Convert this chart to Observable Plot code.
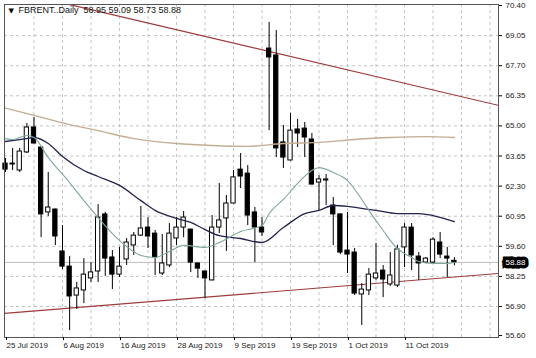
<!DOCTYPE html>
<html><head><meta charset="utf-8">
<script src="https://cdn.jsdelivr.net/npm/d3@7"></script>
<script src="https://cdn.jsdelivr.net/npm/@observablehq/plot@0.6"></script>
<style>body{margin:0;background:#fff;}</style>
</head><body><div id="chart"></div>
<script>
// Daily candles, bar index 0 = 25 Jul 2019 (trading days)
const openP  = [63.31,63.31,63.00,63.81,64.93,64.03,61.12,61.25,59.37,58.69,57.39,57.62,58.16,58.47,61.03,59.10,58.33,59.01,59.64,60.08,60.44,60.17,58.38,58.74,59.95,60.44,60.35,58.83,58.47,58.07,60.44,60.85,61.52,63.04,62.86,61.12,60.44,68.47,68.16,64.26,63.45,64.84,64.88,64.39,62.46,62.55,61.43,61.03,59.41,59.32,57.44,57.62,58.16,58.51,57.89,57.84,59.55,60.44,59.14,58.87,58.87,59.77,59.14,58.95];
const highP  = [63.54,63.99,63.99,65.11,65.38,64.05,62.91,61.27,60.53,59.14,57.98,59.05,58.87,61.47,61.12,59.41,59.55,59.95,60.22,61.39,60.89,60.31,60.13,60.62,60.89,61.16,60.37,58.85,58.49,60.98,62.42,61.88,63.00,63.76,63.22,61.34,60.89,69.64,69.28,65.02,65.56,65.29,65.15,64.66,62.77,62.82,61.79,61.05,61.12,59.50,57.93,58.60,59.73,58.74,59.32,59.64,60.62,60.62,59.32,59.10,59.99,60.22,59.55,59.09];
const lowP   = [62.91,63.00,62.91,63.76,64.19,59.99,60.94,59.63,58.56,55.82,56.77,57.03,57.98,57.98,58.25,57.66,58.20,58.74,59.19,60.04,59.50,58.29,58.29,58.65,59.64,59.99,58.42,58.16,57.26,58.05,60.17,59.37,61.50,62.19,60.53,58.87,60.04,64.79,63.58,63.09,63.43,64.03,63.58,62.35,61.21,61.43,59.63,59.23,58.38,57.39,56.05,57.39,58.07,57.30,57.80,57.75,58.65,58.51,58.07,58.83,58.83,59.05,58.20,58.73];
const closeP = [63.04,63.27,63.85,64.93,64.21,61.03,61.34,60.04,58.69,57.35,57.71,58.33,58.43,60.89,59.05,58.33,58.69,59.77,60.08,60.40,60.04,59.10,58.83,60.17,60.44,60.89,58.87,58.60,58.16,60.44,60.76,61.52,62.69,62.73,60.98,60.44,60.22,68.07,63.99,63.58,64.79,64.66,64.48,62.37,62.60,62.60,61.03,59.32,59.23,57.48,57.66,58.33,58.38,58.11,58.29,59.46,60.44,59.19,58.83,59.05,59.90,59.23,59.05,58.88];

// Moving averages (bar index, price)
const maLongIdx = [0,4,9,13,18,24,29,34,39,44,49,54,59,63];
const maLongVal = [65.80,65.47,65.06,64.79,64.43,64.21,64.12,64.08,64.21,64.26,64.39,64.48,64.52,64.48];
const maMidIdx = [0,3,4,6,8,11,13,16,19,21,24,26,28,30,33,36,39,42,44,46,48,50,52,55,58,60,63];
const maMidVal = [64.30,64.43,64.48,64.21,63.63,63.00,62.73,62.33,61.65,61.21,60.85,60.67,60.35,60.08,59.95,59.77,60.44,61.07,61.21,61.43,61.39,61.30,61.21,61.07,61.07,60.98,60.71];
const maShortIdx = [0,1,3,4,6,9,11,13,15,17,19,21,23,25,28,30,33,36,37,39,41,43,44,46,48,50,51,53,55,56,57,58,60,62,63];
const maShortVal = [64.43,64.39,64.57,64.48,63.58,62.46,61.65,60.89,60.17,59.59,59.19,59.10,59.37,59.64,59.55,59.77,60.26,60.53,61.07,61.70,62.42,63.00,63.13,62.91,62.55,61.70,61.21,60.31,59.50,59.28,59.10,58.92,58.83,58.83,58.87];

// Trend lines (bar index, price)
const upperTrendIdx = [9, 69.19];
const upperTrendVal = [70.44, 65.92];
const lowerTrendIdx = [-0.14, 69.19];
const lowerTrendVal = [56.59, 58.38];

const priceTicks = [70.40,69.05,67.70,66.35,65.00,63.65,62.30,60.95,59.60,58.25,56.90,55.60];
const priceLabels = ["70.40","69.05","67.70","66.35","65.00","63.65","62.30","60.95","59.60","58.25","56.90","55.60"];
const dateTickIdx = [0,8,16,24,32,40,48,56];
const dateTickLabels = ["25 Jul 2019","6 Aug 2019","16 Aug 2019","28 Aug 2019","9 Sep 2019","19 Sep 2019","1 Oct 2019","11 Oct 2019"];
const vGridIdx = [4,8,12,16,20,24,28,32,36,40,44,48,52,56,60,64,68];
const symbol = "FBRENT..";
const timeframe = "Daily";
const bid = 58.88;

const bars = openP.map((o,i)=>({i, o, h:highP[i], l:lowP[i], c:closeP[i]}));
const pts = (idx, val) => idx.map((i,k)=>({i, v:val[k]}));
const last = bars[bars.length-1];
const title = `${symbol}${timeframe}  ${last.o.toFixed(2)} ${last.h.toFixed(2)} ${last.l.toFixed(2)} ${last.c.toFixed(2)}`;
const FONT = "'Liberation Sans', Arial, sans-serif";

const chart = Plot.plot({
  width: 536, height: 358,
  marginLeft: 4, marginRight: 38, marginTop: 4, marginBottom: 21,
  style: {fontFamily: FONT, fontSize: "8px", color: "#000", background: "#fff"},
  x: {type: "linear", domain: [-0.14, 69.19], label: null},
  y: {domain: [55.51, 70.445], label: null},
  marks: [
    Plot.ruleY(priceTicks.slice(1, -1), {stroke: "#c4c4c4", strokeDasharray: "3,3"}),
    Plot.ruleX(vGridIdx, {stroke: "#c4c4c4", strokeDasharray: "3,3"}),
    Plot.ruleY([bid], {stroke: "#bdbdbd"}),
    Plot.line(pts(upperTrendIdx, upperTrendVal), {x: "i", y: "v", stroke: "#9e3b3b", strokeWidth: 1.1, clip: true}),
    Plot.line(pts(lowerTrendIdx, lowerTrendVal), {x: "i", y: "v", stroke: "#9e3b3b", strokeWidth: 1.1, clip: true}),
    Plot.ruleX(bars, {x: "i", y1: "l", y2: "h", stroke: "#000", strokeWidth: 1}),
    Plot.rect(bars.filter(d => d.c >= d.o), {x1: d => d.i - 0.3, x2: d => d.i + 0.3, y1: "o", y2: "c", fill: "#fff", stroke: "#000"}),
    Plot.rect(bars.filter(d => d.c < d.o), {x1: d => d.i - 0.3, x2: d => d.i + 0.3, y1: "o", y2: "c", fill: "#000", stroke: "#000"}),
    Plot.line(pts(maLongIdx, maLongVal), {x: "i", y: "v", stroke: "#c4ad94", strokeWidth: 1.4, curve: "monotone-x"}),
    Plot.line(pts(maMidIdx, maMidVal), {x: "i", y: "v", stroke: "#23234f", strokeWidth: 1.3, curve: "monotone-x"}),
    Plot.line(pts(maShortIdx, maShortVal), {x: "i", y: "v", stroke: "#7fa89f", strokeWidth: 1.1, curve: "monotone-x"}),
    Plot.frame({stroke: "#555"}),
    Plot.axisY({anchor: "right", label: null, ticks: priceTicks, tickFormat: d => priceLabels[priceTicks.indexOf(d)], tickSize: 3, tickPadding: 4, textAnchor: "start", fill: "#222", fontSize: 8}),
    Plot.axisX({label: null, ticks: dateTickIdx, tickFormat: i => dateTickLabels[dateTickIdx.indexOf(i)], tickSize: 3, tickPadding: 2, textAnchor: "start", dx: 1, fill: "#222", fontSize: 8}),
    Plot.text([bid], {y: d => d, frameAnchor: "right", dx: 7, text: d => d.toFixed(2), textAnchor: "start", fill: "#fff", stroke: "#000", strokeWidth: 7, strokeLinejoin: "miter", fontSize: 8}),
    Plot.text(["▼"], {frameAnchor: "top-left", dx: 4, dy: 4, lineAnchor: "top", textAnchor: "start", fontSize: 7, fill: "#000", fontFamily: "DejaVu Sans"}),
    Plot.text([title], {frameAnchor: "top-left", dx: 14, dy: 2, lineAnchor: "top", textAnchor: "start", fill: "#111", fontSize: 9, fontFamily: FONT})
  ]
});
document.getElementById("chart").appendChild(chart);
</script>
</body></html>
